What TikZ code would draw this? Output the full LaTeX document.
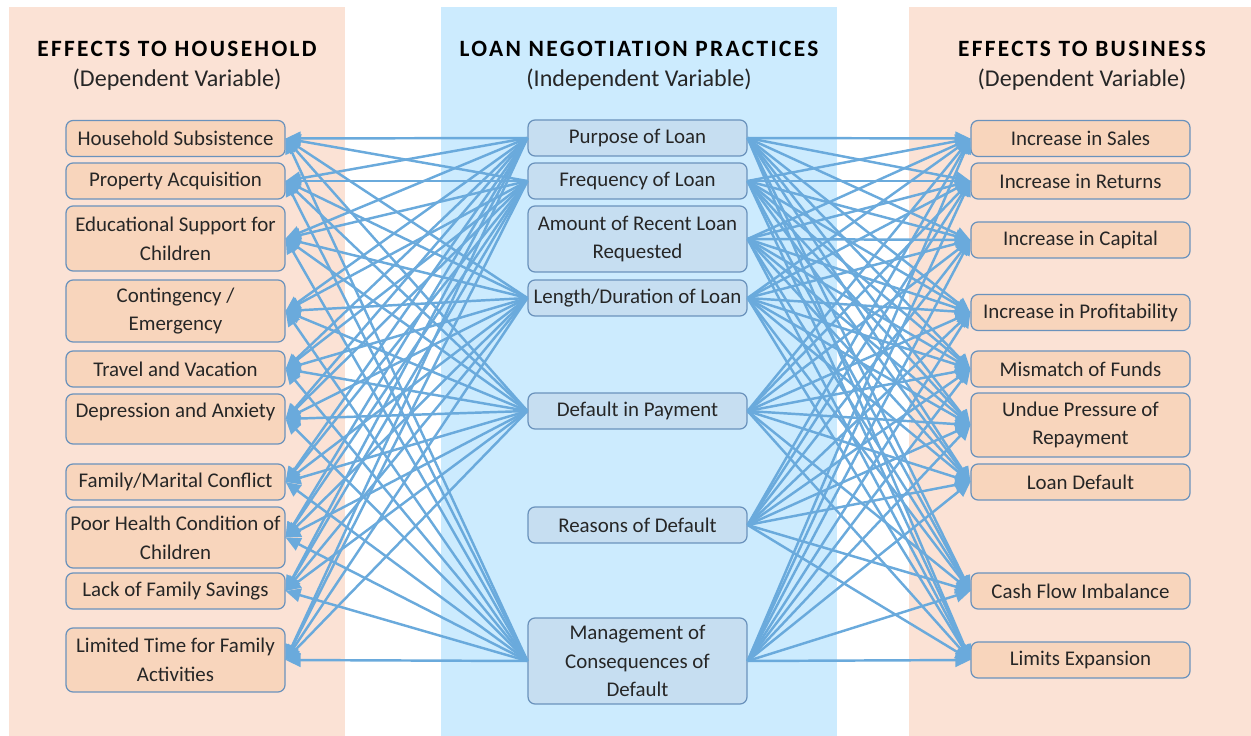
\documentclass[tikz,border=0pt]{standalone}
\usepackage{fontspec}
\setmainfont{Carlito}
\usepackage{tikz}
\usepackage{xcolor}
\usetikzlibrary{
    arrows.meta,
    positioning
}

\definecolor{peachbg}{HTML}{FBE2D5}
\definecolor{peachbox}{HTML}{F8D5BC}
\definecolor{bluebg}{HTML}{CCEBFE}
\definecolor{bluebox}{HTML}{C6DEF1}
\definecolor{boxline}{HTML}{6A92BC}
\definecolor{linkblue}{HTML}{6AAADC}
\definecolor{inktext}{HTML}{262626}

\tikzset{
    var/.style={draw=boxline, line width=0.7pt, rounded corners=0.14cm,
        minimum width=4.38cm, minimum height=0.72cm, inner sep=0pt,
        align=center, text=inktext, font=\fontsize{11.9}{16.4}\selectfont},
    effect/.style={var, fill=peachbox},
    practice/.style={var, fill=bluebox},
    heading/.style={anchor=base, font=\fontsize{13.3}{16}\selectfont\bfseries\addfontfeature{LetterSpace=10}},
    subheading/.style={anchor=base, text=inktext, font=\fontsize{13.7}{16}\selectfont},
    link/.style={draw=linkblue, line width=1.4pt, -{Triangle[length=0.3cm, width=0.27cm]}}
}

\begin{document}
\begin{tikzpicture}[x=0.02cm, y=-0.02cm]
    \useasboundingbox (0, 0) rectangle (1251, 736);

    % column panels
    \fill[peachbg] (9, 7) rectangle (345, 736);
    \fill[bluebg] (441, 7) rectangle (837, 736);
    \fill[peachbg] (909, 7) rectangle (1251, 736);

    \node[heading] (hhead) at (177, 57) {EFFECTS TO HOUSEHOLD};
    \node[subheading] (hsub) at (177, 87) {(Dependent Variable)};
    \node[heading] (phead) at (639, 57) {LOAN NEGOTIATION PRACTICES};
    \node[subheading] (psub) at (639, 87) {(Independent Variable)};
    \node[heading] (bhead) at (1082, 57) {EFFECTS TO BUSINESS};
    \node[subheading] (bsub) at (1082, 87) {(Dependent Variable)};

    % household effects
    \node[effect] (subsist) at (175.5, 138.5) {Household Subsistence};
    \node[effect] (property) at (175.5, 181) {Property Acquisition};
    \node[effect, minimum height=1.3cm] (educ) at (175.5, 238.5) {Educational Support for\\Children};
    \node[effect, minimum height=1.24cm] (conting) at (175.5, 311) {Contingency /\\Emergency};
    \node[effect] (travel) at (175.5, 369) {Travel and Vacation};
    \node[effect, minimum height=1.0cm, text height=8.5pt, text depth=9.7pt] (depress) at (175.5, 419) {Depression and Anxiety};
    \node[effect] (conflict) at (175.5, 482) {Family/Marital Conflict};
    \node[effect, minimum height=1.22cm] (health) at (175.5, 537.5) {Poor Health Condition of\\Children};
    \node[effect] (savings) at (175.5, 591) {Lack of Family Savings};
    \node[effect, minimum height=1.28cm] (famtime) at (175.5, 660) {Limited Time for Family\\Activities};

    % loan negotiation practices
    \node[practice] (purpose) at (637.5, 138) {Purpose of Loan};
    \node[practice] (frequency) at (637.5, 181) {Frequency of Loan};
    \node[practice, minimum height=1.32cm] (amount) at (637.5, 239) {Amount of Recent Loan\\Requested};
    \node[practice] (duration) at (637.5, 298) {Length/Duration of Loan};
    \node[practice] (default) at (637.5, 411) {Default in Payment};
    \node[practice] (reasons) at (637.5, 525) {Reasons of Default};
    \node[practice, minimum height=1.72cm] (manage) at (637.5, 661) {Management of\\Consequences of\\Default};

    % business effects
    \node[effect] (sales) at (1080.5, 138.5) {Increase in Sales};
    \node[effect] (returns) at (1080.5, 181) {Increase in Returns};
    \node[effect] (capital) at (1080.5, 240) {Increase in Capital};
    \node[effect] (profit) at (1080.5, 312.5) {Increase in Profitability};
    \node[effect] (mismatch) at (1080.5, 369) {Mismatch of Funds};
    \node[effect, minimum height=1.28cm] (pressure) at (1080.5, 425) {Undue Pressure of\\Repayment};
    \node[effect] (loandef) at (1080.5, 482) {Loan Default};
    \node[effect] (cashflow) at (1080.5, 591) {Cash Flow Imbalance};
    \node[effect] (expand) at (1080.5, 660) {Limits Expansion};

    % links to the household side
    \foreach \src in {purpose, frequency, duration, default, manage}
        \foreach \dst in {subsist, property, educ, conting, travel, depress, conflict, health, savings, famtime}
            \draw[link] (\src.west) -- (\dst.east);

    % links to the business side
    \foreach \src in {purpose, frequency, amount, duration, default, reasons, manage}
        \foreach \dst in {sales, returns, capital, profit, mismatch, pressure, loandef, cashflow, expand}
            \draw[link] (\src.east) -- (\dst.west);
\end{tikzpicture}
\end{document}
